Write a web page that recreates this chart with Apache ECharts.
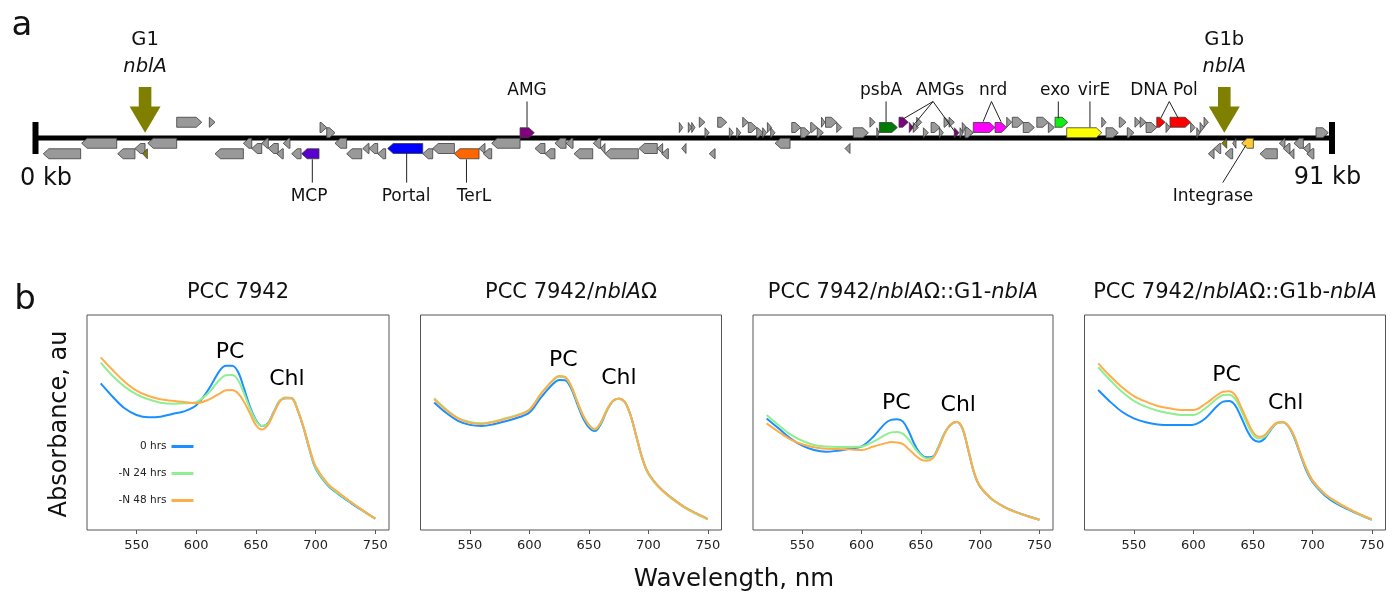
<!DOCTYPE html>
<html><head><meta charset="utf-8">
<script src="https://cdn.jsdelivr.net/npm/echarts@6/dist/echarts.min.js"></script>
<style>html,body{margin:0;padding:0;background:#fff}#c{width:1397px;height:595px}</style>
</head><body><div id="c"></div>
<script>
const FONT = 'DejaVu Sans';

// ---------- Panel a : genome map (positions in kb; row >0 forward, <0 reverse) ----------
const genomeLengthKb = 91;
const genes = [
 [9.91,11.67,3,'g'],[12.20,12.60,3,'g'],[19.97,20.44,2,'g'],[20.44,21.02,1,'g'],[34.01,35.01,1,'amg'],
 [45.19,45.43,2,'g'],[45.82,46.06,2,'g'],[46.06,46.29,2,'g'],[46.59,46.99,3,'g'],[46.99,47.29,1,'g'],
 [47.88,48.52,3,'g'],[48.70,48.98,1,'g'],[49.22,49.50,1,'g'],[49.64,50.03,3,'g'],[50.03,50.62,2,'g'],
 [50.62,51.08,1,'g'],[51.04,51.32,1,'g'],[51.37,51.67,2,'g'],[51.60,51.91,1,'g'],[53.08,53.71,2,'g'],
 [53.71,54.36,1,'g'],[54.41,54.87,2,'g'],[54.87,55.30,1,'g'],[55.17,55.41,3,'g'],[55.45,56.24,3,'g'],
 [56.24,56.59,2,'g'],[57.40,58.46,1,'g'],[58.57,58.92,3,'g'],[59.05,59.21,1,'g'],[59.23,60.49,2,'psba'],
 [60.61,61.26,3,'amg'],[61.33,61.61,2,'amg'],[61.61,61.96,2,'g'],[61.85,62.20,3,'g'],[62.32,62.67,1,'g'],
 [62.86,63.49,2,'g'],[63.44,63.72,1,'g'],[63.77,64.19,3,'g'],[64.12,64.49,3,'g'],[64.49,64.82,1,'amg'],
 [64.89,65.12,1,'g'],[65.05,65.36,2,'g'],[65.24,65.82,1,'g'],[65.82,67.35,2,'nrd'],[67.35,68.17,2,'nrd'],
 [68.17,68.52,3,'g'],[68.56,69.33,3,'g'],[69.33,70.11,2,'g'],[70.28,71.09,3,'g'],[71.09,71.51,2,'g'],
 [71.56,72.45,3,'exo'],[72.38,74.84,1,'vire'],[74.84,75.14,3,'g'],[75.14,76.00,1,'g'],[76.07,76.54,3,'g'],
 [76.63,77.10,1,'g'],[77.17,77.53,3,'g'],[77.53,77.95,3,'g'],[77.95,78.70,2,'g'],[78.70,79.28,3,'pol'],
 [79.35,79.63,2,'g'],[79.63,81.08,3,'pol'],[81.08,81.39,2,'g'],[81.51,81.74,1,'g'],[81.74,82.02,2,'g'],
 [82.02,82.32,3,'g'],[89.88,90.74,1,'g'],
 [0.55,3.17,-3,'g'],[3.24,5.70,-1,'g'],[5.77,6.98,-3,'g'],[6.98,7.69,-2,'g'],[7.52,7.85,-3,'nbl'],
 [7.88,9.91,-1,'g'],[12.60,14.59,-3,'g'],[14.59,15.18,-1,'g'],[15.18,15.88,-2,'g'],[15.88,16.34,-1,'g'],
 [16.34,17.04,-2,'g'],[16.93,17.39,-3,'g'],[17.39,17.86,-1,'g'],[17.98,18.64,-3,'g'],[18.68,19.90,-3,'mcp'],
 [21.02,21.84,-1,'g'],[21.84,22.90,-3,'g'],[22.97,23.41,-2,'g'],[23.41,24.02,-2,'g'],[24.02,24.58,-3,'g'],
 [24.72,27.18,-2,'portal'],[27.18,27.88,-3,'g'],[27.88,29.40,-2,'g'],[29.40,31.13,-3,'terl'],[31.13,31.55,-2,'g'],
 [31.43,32.02,-3,'g'],[32.02,34.01,-1,'g'],[35.06,35.76,-2,'g'],[35.76,36.46,-3,'g'],[36.46,37.24,-1,'g'],
 [37.24,37.73,-1,'g'],[37.80,39.11,-3,'g'],[39.15,39.67,-1,'g'],[39.67,39.97,-2,'g'],[39.97,42.31,-3,'g'],
 [42.36,43.64,-2,'g'],[43.64,44.02,-2,'g'],[43.95,44.42,-3,'g'],[45.36,45.66,-2,'g'],[47.29,47.70,-3,'g'],
 [51.91,52.96,-1,'g'],[56.82,57.17,-2,'g'],[82.32,82.72,-3,'g'],[82.72,83.19,-2,'g'],[83.26,83.61,-1,'nbl'],
 [83.49,84.03,-3,'g'],[84.03,84.26,-1,'g'],[84.66,85.48,-1,'int'],[85.95,87.16,-3,'g'],[87.30,87.70,-1,'g'],
 [87.58,88.05,-2,'g'],[88.00,88.33,-3,'g'],[88.33,88.99,-1,'g'],[88.99,89.46,-2,'g'],[89.23,89.73,-3,'g']
];
const geneColors = {g:'#999999',nbl:'#808000',amg:'#800080',mcp:'#5a00cc',portal:'#0000ff',terl:'#ff6600',
  psba:'#007a00',nrd:'#ff00ff',exo:'#11ee11',vire:'#ffff00',pol:'#ff0000',int:'#ffcc33'};

const upLabels     = ['AMG','psbA','AMGs','nrd','exo','virE','DNA Pol'];
const upLabelKb    = [34.50, 59.35, 63.49, 67.21, 71.56, 74.30, 79.21];
const upLeaderKb   = [34.50, 59.70, 63.00, 67.10, 71.79, 74.01, 79.58];
const upTargets    = [[[34.50,2.0]],[[59.70,3.05]],[[60.89,3.62],[61.52,2.1],[64.54,1.14]],
                      [[66.51,3.1],[67.77,3.1]],[[71.79,3.75]],[[74.01,2.04]],[[78.98,3.75],[80.21,3.75]]];
const downLabels   = ['MCP','Portal','TerL','Integrase'];
const downLabelKb  = [19.20, 26.01, 30.78, 82.65];
const downLeaderKb = [19.43, 26.05, 30.25, 83.33];
const downTargets  = [[[19.43,-4.06]],[[26.05,-2.86]],[[30.25,-4.06]],[[84.97,-1.33]]];
const nblaKb   = [7.69, 83.44];
const nblaName = ['G1','G1b'];

// ---------- Panel b : absorbance spectra ----------
const wavelengths = [520,530,540,550,560,570,580,590,600,610,620,625,630,635,640,645,650,655,660,665,670,675,680,685,690,695,700,710,720,730,740,750];
const seriesNames = ['0 hrs','-N 24 hrs','-N 48 hrs'];
const wt_0h  = [.682,.620,.566,.535,.524,.527,.540,.552,.580,.651,.744,.764,.764,.736,.659,.574,.512,.484,.496,.550,.601,.613,.613,.558,.473,.372,.287,.209,.163,.124,.088,.053];
const wt_24h = [.778,.716,.667,.631,.608,.592,.587,.589,.595,.636,.701,.720,.721,.698,.636,.566,.508,.484,.494,.548,.600,.614,.614,.560,.476,.375,.290,.212,.166,.127,.089,.052];
const wt_48h = [.803,.744,.690,.648,.623,.608,.601,.595,.590,.605,.636,.650,.651,.636,.597,.543,.488,.468,.488,.543,.597,.616,.612,.556,.476,.380,.297,.217,.171,.129,.090,.053];
const ko_0h  = [.593,.545,.508,.489,.484,.492,.506,.522,.546,.618,.680,.698,.697,.660,.590,.522,.477,.460,.492,.553,.598,.611,.597,.535,.434,.333,.264,.194,.147,.108,.078,.051];
const ko_24h = [.613,.562,.522,.502,.496,.505,.520,.535,.560,.635,.696,.713,.709,.670,.600,.533,.488,.468,.498,.556,.599,.611,.596,.533,.431,.330,.261,.191,.144,.105,.075,.048];
const ko_48h = [.608,.558,.519,.499,.493,.502,.517,.533,.558,.635,.698,.716,.712,.672,.602,.535,.490,.470,.500,.558,.600,.612,.597,.535,.434,.333,.264,.194,.147,.108,.078,.051];
const g1_0h  = [.519,.473,.426,.392,.372,.364,.369,.378,.388,.434,.496,.512,.515,.504,.457,.395,.353,.338,.341,.388,.450,.488,.502,.473,.372,.264,.201,.143,.109,.084,.065,.048];
const g1_24h = [.535,.488,.445,.415,.395,.388,.386,.386,.388,.411,.442,.454,.456,.447,.419,.380,.349,.333,.337,.386,.449,.488,.502,.474,.374,.266,.203,.143,.108,.083,.064,.048];
const g1_48h = [.496,.457,.422,.399,.385,.378,.377,.375,.372,.388,.403,.409,.407,.399,.375,.349,.328,.322,.333,.381,.447,.490,.503,.476,.376,.268,.204,.144,.108,.083,.064,.048];
const g1b_0h  = [.651,.597,.550,.519,.501,.491,.488,.488,.490,.519,.577,.597,.600,.581,.527,.465,.422,.411,.426,.465,.496,.501,.481,.426,.349,.276,.225,.163,.124,.096,.070,.047];
const g1b_24h = [.757,.698,.643,.601,.574,.555,.543,.535,.535,.566,.612,.628,.629,.611,.558,.496,.445,.426,.434,.468,.496,.501,.482,.432,.354,.284,.230,.168,.130,.099,.072,.049];
const g1b_48h = [.775,.716,.664,.623,.597,.577,.566,.558,.558,.586,.628,.643,.645,.628,.574,.512,.457,.434,.442,.473,.499,.502,.484,.434,.357,.287,.233,.171,.132,.101,.074,.050];
const panelData = [[wt_0h,wt_24h,wt_48h],[ko_0h,ko_24h,ko_48h],[g1_0h,g1_24h,g1_48h],[g1b_0h,g1b_24h,g1b_48h]];
const peakNames = ['PC','Chl'];
const peakWl  = [[628.3,676.0],[628.5,675.3],[629.4,681.6],[628.0,677.6]];
const peakAbs = [[.828,.702],[.791,.706],[.589,.581],[.721,.589]];
const xTicks = [550,600,650,700,750];
const panelTitles = ['{n|PCC 7942}','{n|PCC 7942/}{i|nblA}{n|Ω}','{n|PCC 7942/}{i|nblA}{n|Ω::G1-}{i|nblA}','{n|PCC 7942/}{i|nblA}{n|Ω::G1b-}{i|nblA}'];

// ---------- layout / style ----------
const lineColors = ['#1a8fff','#90ee90','#ffad4a'];
const panelBoxes = [[87,302],[420.5,301],[753,300],[1084.5,301]];

const grid = [{left:35.5, width:1296.5, top:117, height:42}];
const xAxis = [{type:'value', min:0, max:genomeLengthKb, show:false, gridIndex:0}];
const yAxis = [{type:'value', min:-4, max:4, show:false, gridIndex:0}];
panelBoxes.forEach((b,i)=>{
  grid.push({left:b[0], width:b[1], top:315, height:215, show:true, borderColor:'#555', borderWidth:1, backgroundColor:'transparent'});
  xAxis.push({type:'value', gridIndex:i+1, min:508.5, max:761.5, axisLine:{show:false}, splitLine:{show:false},
    axisTick:{show:true, customValues:xTicks, length:4, lineStyle:{color:'#555'}},
    axisLabel:{customValues:xTicks, fontSize:13, color:'#222', fontFamily:FONT, margin:9}});
  yAxis.push({type:'value', gridIndex:i+1, min:0, max:1, show:false});
});

const series = [];
// backbone
series.push({type:'line', xAxisIndex:0, yAxisIndex:0, data:[[0,0],[genomeLengthKb,0]], symbol:'none', silent:true,
  lineStyle:{width:5, color:'#000'}, z:1});
series.push({type:'custom', xAxisIndex:0, yAxisIndex:0, clip:false, silent:true, z:1, data:[[0],[genomeLengthKb]],
  renderItem:(p,api)=>{const c=api.coord([api.value(0),0]);return {type:'rect',shape:{x:c[0]-3,y:c[1]-16,width:6,height:32},style:{fill:'#000'}};}});
// genes
series.push({type:'custom', xAxisIndex:0, yAxisIndex:0, clip:false, silent:true, z:3,
  data: genes.map(g=>({value:[g[0],g[1],g[2]], itemStyle:{color:geneColors[g[3]]}})),
  renderItem:(p,api)=>{
    const s=api.value(0), e=api.value(1), r=api.value(2);
    const a=api.coord([s,r]), b=api.coord([e,r]);
    const h=10, y=a[1], hd=Math.min(5.5,b[0]-a[0]);
    const pts = r>0
      ? [[a[0],y-h/2],[b[0]-hd,y-h/2],[b[0],y],[b[0]-hd,y+h/2],[a[0],y+h/2]]
      : [[b[0],y-h/2],[a[0]+hd,y-h/2],[a[0],y],[a[0]+hd,y+h/2],[b[0],y+h/2]];
    return {type:'polygon', shape:{points:pts}, style:{fill:api.visual('color'), stroke:'#3c3c3c', lineWidth:0.8}};
  }});
// annotations above
series.push({type:'custom', xAxisIndex:0, yAxisIndex:0, clip:false, silent:true, z:4,
  data: upLabels.map((t,i)=>[upLabelKb[i], 8.95]),
  renderItem:(p,api)=>{
    const i=p.dataIndex; const tc=api.coord([upLabelKb[i],8.95]); const o=api.coord([upLeaderKb[i],6.95]);
    const ch=[{type:'text', x:tc[0], y:tc[1], style:{text:upLabels[i], fontSize:17, fontFamily:FONT, fill:'#111', align:'center', verticalAlign:'middle'}}];
    upTargets[i].forEach(t=>{const q=api.coord(t); ch.push({type:'line', shape:{x1:o[0],y1:o[1],x2:q[0],y2:q[1]}, style:{stroke:'#222', lineWidth:1}});});
    return {type:'group', children:ch};
  }});
// annotations below
series.push({type:'custom', xAxisIndex:0, yAxisIndex:0, clip:false, silent:true, z:4,
  data: downLabels.map((t,i)=>[downLabelKb[i], -11.24]),
  renderItem:(p,api)=>{
    const i=p.dataIndex; const tc=api.coord([downLabelKb[i],-11.24]); const o=api.coord([downLeaderKb[i],-8.5]);
    const ch=[{type:'text', x:tc[0], y:tc[1], style:{text:downLabels[i], fontSize:17, fontFamily:FONT, fill:'#111', align:'center', verticalAlign:'middle'}}];
    downTargets[i].forEach(t=>{const q=api.coord(t); ch.push({type:'line', shape:{x1:o[0],y1:o[1],x2:q[0],y2:q[1]}, style:{stroke:'#222', lineWidth:1}});});
    return {type:'group', children:ch};
  }});
// nblA arrows
series.push({type:'custom', xAxisIndex:0, yAxisIndex:0, clip:false, silent:true, z:5,
  data: nblaKb.map(k=>[k]),
  renderItem:(p,api)=>{
    const i=p.dataIndex; const k=api.value(0);
    const tip=api.coord([k,1.0]), base=api.coord([k,6.0]), top=api.coord([k,9.7]);
    const x=tip[0];
    const pts=[[x-6.3,top[1]],[x+6.3,top[1]],[x+6.3,base[1]],[x+15.5,base[1]],[x,tip[1]],[x-15.5,base[1]],[x-6.3,base[1]]];
    const t1=api.coord([k,18.67]), t2=api.coord([k,13.6]);
    return {type:'group', children:[
      {type:'polygon', shape:{points:pts}, style:{fill:'#808000'}},
      {type:'text', x:x, y:t1[1], style:{text:nblaName[i], fontSize:19.5, fontFamily:FONT, fill:'#111', align:'center', verticalAlign:'middle'}},
      {type:'text', x:x, y:t2[1], style:{text:'nblA', fontSize:19.5, fontStyle:'italic', fontFamily:FONT, fill:'#111', align:'center', verticalAlign:'middle'}}
    ]};
  }});

// spectra
panelData.forEach((pd,pi)=>{
  pd.forEach((vals,si)=>{
    series.push({type:'line', name:seriesNames[si], xAxisIndex:pi+1, yAxisIndex:pi+1, smooth:0.35, showSymbol:false, symbol:'none', silent:true,
      data: wavelengths.map((w,k)=>[w, vals[k]]), z:2+si,
      itemStyle:{color:lineColors[si]}, lineStyle:{color:lineColors[si], width:2}});
  });
  series.push({type:'custom', xAxisIndex:pi+1, yAxisIndex:pi+1, clip:false, silent:true, z:6,
    data: peakNames.map((n,k)=>[peakWl[pi][k], peakAbs[pi][k]]),
    renderItem:(p,api)=>{
      const c=api.coord([api.value(0),api.value(1)]);
      return {type:'text', x:c[0], y:c[1], style:{text:peakNames[p.dataIndex], fontSize:22, fontFamily:FONT, fill:'#000', align:'center', verticalAlign:'middle'}};
    }});
});

const graphic = [
  {type:'text', x:22, y:26, style:{text:'a', fontSize:34, fontFamily:FONT, fill:'#111', align:'center', verticalAlign:'middle'}},
  {type:'text', x:25, y:300, style:{text:'b', fontSize:34, fontFamily:FONT, fill:'#111', align:'center', verticalAlign:'middle'}},
  {type:'text', x:46, y:179, style:{text:'0 kb', fontSize:24, fontFamily:FONT, fill:'#111', align:'center', verticalAlign:'middle'}},
  {type:'text', x:1327.5, y:178, style:{text:'91 kb', fontSize:24, fontFamily:FONT, fill:'#111', align:'center', verticalAlign:'middle'}},
  {type:'text', x:734, y:580, style:{text:'Wavelength, nm', fontSize:24.5, fontFamily:FONT, fill:'#111', align:'center', verticalAlign:'middle'}},
  {type:'text', x:60, y:424, rotation:Math.PI/2, style:{text:'Absorbance, au', fontSize:24, fontFamily:FONT, fill:'#111', align:'center', verticalAlign:'middle'}}
];
panelBoxes.forEach((b,i)=>{
  graphic.push({type:'text', x:b[0]+b[1]/2, y:293, style:{text:panelTitles[i], align:'center', verticalAlign:'middle',
    rich:{n:{fontSize:21, fontFamily:FONT, fill:'#111'}, i:{fontSize:21, fontFamily:FONT, fontStyle:'italic', fill:'#111'}}}});
});

const chart = echarts.init(document.getElementById('c'), null, {renderer:'canvas'});
chart.setOption({
  animation:false,
  backgroundColor:'#fff',
  textStyle:{fontFamily:FONT},
  grid, xAxis, yAxis, series, graphic,
  legend:{data:seriesNames, orient:'vertical', align:'right', right:1397-193.5, top:441, padding:0,
    itemWidth:22, itemHeight:3, itemGap:16, icon:'rect', selectedMode:false,
    textStyle:{fontSize:10.5, color:'#222', fontFamily:FONT}}
});
</script></body></html>
